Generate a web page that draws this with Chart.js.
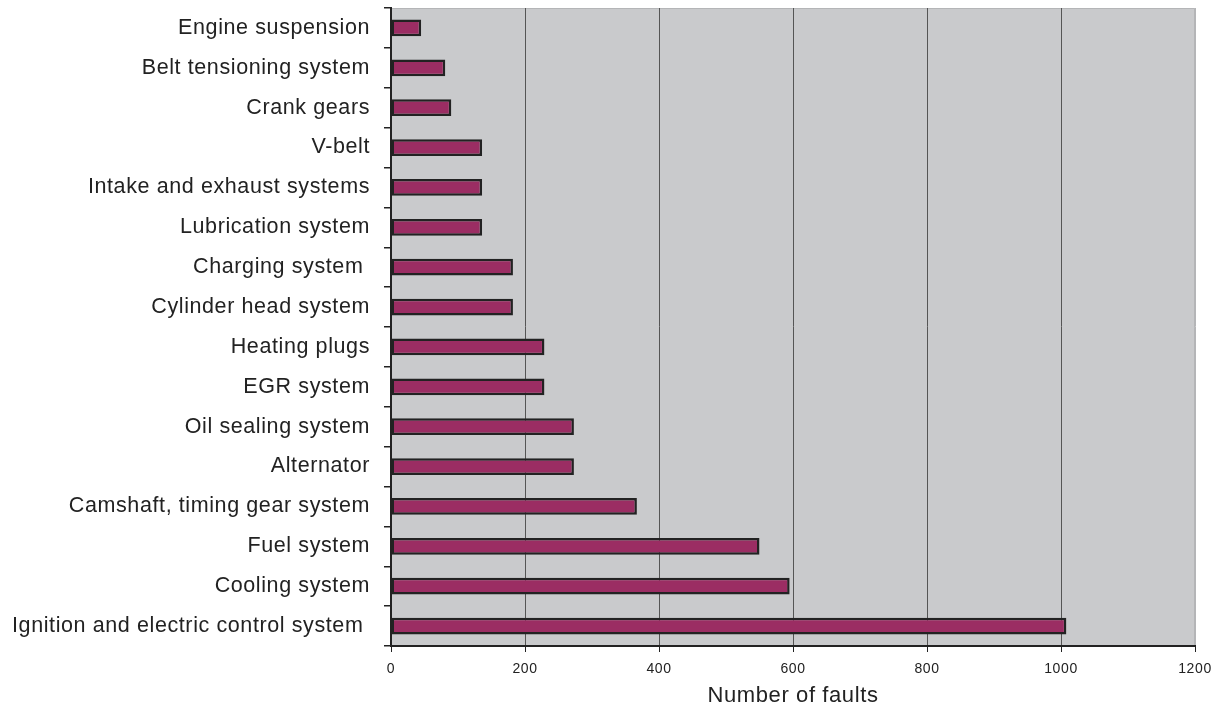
<!DOCTYPE html>
<html>
<head>
<meta charset="utf-8">
<script src="https://cdn.jsdelivr.net/npm/chart.js@4"></script>
<style>
  html, body { margin: 0; padding: 0; background: #fff; }
  #wrap { width: 1221px; height: 709px; }
</style>
</head>
<body>
<div id="wrap"><canvas id="faults" width="1221" height="709"></canvas></div>
<script>
// Fault categories, top to bottom
const categories = [
  'Engine suspension',
  'Belt tensioning system',
  'Crank gears',
  'V-belt',
  'Intake and exhaust systems',
  'Lubrication system',
  'Charging system ',
  'Cylinder head system',
  'Heating plugs',
  'EGR system',
  'Oil sealing system',
  'Alternator',
  'Camshaft, timing gear system',
  'Fuel system',
  'Cooling system',
  'Ignition and electric control system '
];
const faultCounts = [45, 81, 90, 136, 136, 136, 182, 182, 229, 229, 273, 273, 367, 550, 595, 1008];
const xTicks = [0, 200, 400, 600, 800, 1000, 1200];

const font = "'Liberation Sans', Arial, sans-serif";

// the original text is slightly spaced out
const spacing = {
  id: 'spacing',
  beforeUpdate(chart) { chart.ctx.letterSpacing = '0.6px'; },
  beforeDraw(chart) { chart.ctx.letterSpacing = '0.6px'; }
};

// grey plot background
const plotBg = {
  id: 'plotBg',
  beforeDraw(chart) {
    const { ctx, chartArea: a } = chart;
    ctx.save();
    ctx.fillStyle = '#c9cacc';
    ctx.fillRect(a.left, a.top, a.right - a.left, a.bottom - a.top);
    ctx.strokeStyle = '#b4b5b7';
    ctx.lineWidth = 1;
    ctx.beginPath();
    ctx.moveTo(a.left, a.top + 0.5);
    ctx.lineTo(a.right - 0.5, a.top + 0.5);
    ctx.lineTo(a.right - 0.5, a.bottom);
    ctx.stroke();
    ctx.restore();
  }
};

new Chart(document.getElementById('faults'), {
  type: 'bar',
  data: {
    labels: categories,
    datasets: [{
      label: 'Number of faults',
      data: faultCounts,
      backgroundColor: '#9b2d63',
      borderColor: '#222222',
      borderWidth: 2.5,
      borderSkipped: false,
      barPercentage: 0.42,
      categoryPercentage: 1
    }]
  },
  options: {
    indexAxis: 'y',
    responsive: false,
    animation: false,
    layout: { padding: { top: 8, right: 26, left: 0, bottom: 0 } },
    plugins: {
      legend: { display: false },
      tooltip: { enabled: false }
    },
    scales: {
      x: {
        min: 0,
        max: 1200,
        afterBuildTicks: (scale) => { scale.ticks = xTicks.map(v => ({ value: v })); },
        afterFit: (scale) => { scale.height = 63; },
        border: { display: true, color: '#222', width: 2 },
        grid: {
          color: (c) => c.tick && c.tick.value === 1200 ? '#b4b5b7' : '#555',
          tickColor: '#222',
          lineWidth: 1,
          tickLength: 6
        },
        ticks: {
          color: '#222',
          padding: 9,
          callback: (v) => String(v),
          font: { family: font, size: 14 }
        },
        title: {
          display: true,
          text: 'Number of faults',
          color: '#222',
          padding: { top: 4, bottom: 0 },
          font: { family: font, size: 22 }
        }
      },
      y: {
        afterFit: (scale) => {
          scale.width = 391;
          scale.paddingTop = 0;
          scale.paddingBottom = 0;
        },
        border: { display: true, color: '#222', width: 2 },
        grid: {
          offset: true,
          drawOnChartArea: false,
          drawTicks: true,
          tickLength: 7,
          tickColor: '#222',
          lineWidth: 1.5
        },
        ticks: {
          color: '#222',
          padding: 14,
          autoSkip: false,
          font: { family: font, size: 21.5 }
        }
      }
    }
  },
  plugins: [spacing, plotBg]
});
</script>
</body>
</html>
